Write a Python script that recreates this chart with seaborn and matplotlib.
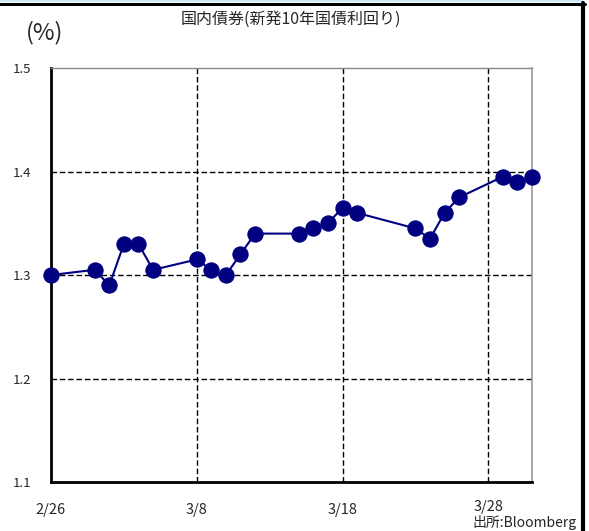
import matplotlib
matplotlib.use("Agg")
import matplotlib.pyplot as plt
import matplotlib.transforms as mtransforms
from matplotlib.lines import Line2D
from matplotlib.patches import Rectangle
import seaborn as sns
import pandas as pd

# New-issue 10-year JGB yield, daily closes (%)
dates = ["2010-02-26", "2010-03-01", "2010-03-02", "2010-03-03", "2010-03-04",
         "2010-03-05", "2010-03-08", "2010-03-09", "2010-03-10", "2010-03-11",
         "2010-03-12", "2010-03-15", "2010-03-16", "2010-03-17", "2010-03-18",
         "2010-03-19", "2010-03-23", "2010-03-24", "2010-03-25", "2010-03-26",
         "2010-03-29", "2010-03-30", "2010-03-31"]
yields = [1.300, 1.305, 1.290, 1.330, 1.330,
          1.305, 1.315, 1.305, 1.300, 1.320,
          1.340, 1.340, 1.345, 1.350, 1.365,
          1.360, 1.345, 1.335, 1.360, 1.375,
          1.395, 1.390, 1.395]
x_ticks = ["2010-02-26", "2010-03-08", "2010-03-18", "2010-03-28"]
y_ticks = [1.1, 1.2, 1.3, 1.4, 1.5]

title = "国内債券(新発10年国債利回り)"
unit = "(%)"
source = "出所:Bloomberg"

df = pd.DataFrame({"date": pd.to_datetime(dates), "yield": yields})

sns.set_theme(style="white")
plt.rcParams["font.family"] = ["Noto Sans CJK JP", "DejaVu Sans"]

fig = plt.figure(figsize=(5.89, 5.31), dpi=100)
ax = fig.add_axes([51 / 589, 1 - 482 / 531, (532 - 51) / 589, (482 - 68) / 531])

navy = "#000080"
sns.lineplot(data=df, x="date", y="yield", ax=ax, color=navy, linewidth=1.5,
             marker="o", markersize=11, markeredgecolor=navy, markerfacecolor=navy)
for ln in ax.lines:
    ln.set_clip_on(False)
    ln.set_zorder(5)

ax.set_xlim(pd.Timestamp("2010-02-26"), pd.Timestamp("2010-03-31"))
ax.set_ylim(1.1, 1.5)

xt = pd.to_datetime(x_ticks)
ax.set_xticks(xt)
ax.set_xticklabels([f"{d.month}/{d.day}" for d in xt], fontsize=10.5)
ax.set_yticks(y_ticks)
ax.set_yticklabels([f"{v:.1f}" for v in y_ticks], fontsize=9.5)
ax.tick_params(axis="x", length=0, pad=15)
ax.tick_params(axis="y", length=0, pad=14)
ax.set_xlabel("")
ax.set_ylabel("")

# last date label sits a little higher, just above the source note
last = ax.get_xticklabels()[-1]
last.set_transform(last.get_transform() + mtransforms.ScaledTranslation(0, 3 / 100, fig.dpi_scale_trans))

# dashed grid
for d in xt[1:]:
    ax.axvline(d, color="black", linestyle=(0, (4, 2)), linewidth=1, zorder=1)
for v in y_ticks[1:-1]:
    ax.axhline(v, color="black", linestyle=(0, (4, 2)), linewidth=1, zorder=1)

for side in ("left", "bottom"):
    ax.spines[side].set_color("black")
    ax.spines[side].set_linewidth(2)
ax.spines["top"].set_color("#888888")
ax.spines["top"].set_linestyle((0, (3, 1)))
ax.spines["top"].set_linewidth(1)
ax.spines["right"].set_color("#999999")
ax.spines["right"].set_linewidth(1.2)

fig.text(291 / 589, 1 - 19 / 531, title, ha="center", va="center", fontsize=11.5)
fig.text(45 / 589, 1 - 33 / 531, unit, ha="center", va="center", fontsize=17)
fig.text(577 / 589, 1 - 522 / 531, source, ha="right", va="center", fontsize=10)

# frame edges of the panel
fig.patches.append(Rectangle((0, 1 - 2 / 531), 583 / 589, 2 / 531, transform=fig.transFigure,
                             facecolor="#cfe8f5", edgecolor="none"))
fig.lines.append(Line2D([0, 585 / 589], [1 - 3.5 / 531, 1 - 3.5 / 531], transform=fig.transFigure,
                        color="black", linewidth=2.2))
fig.lines.append(Line2D([583 / 589, 583 / 589], [0, 1 - 2.5 / 531], transform=fig.transFigure,
                        color="black", linewidth=3))

fig.savefig("out.png", dpi=100)
